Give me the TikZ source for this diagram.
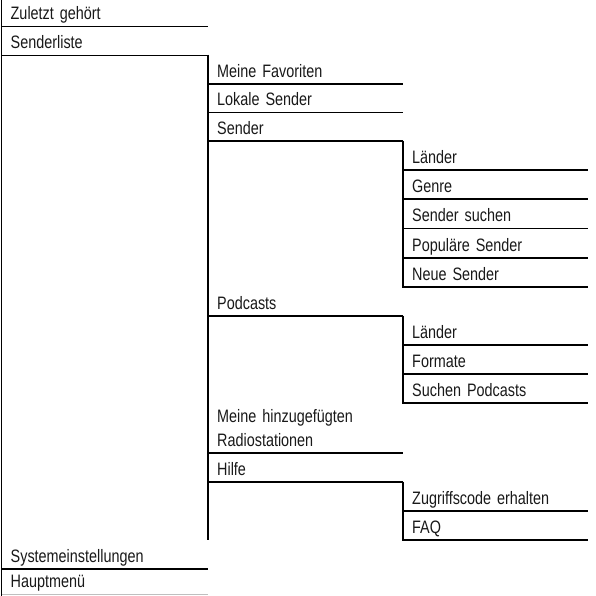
\documentclass[tikz,border=0pt]{standalone}
\usepackage{fontspec}
\setmainfont[FakeStretch=0.8, WordSpace=0.6]{Liberation Sans}
\usepackage{tikz}

\tikzset{
  menu/.style={anchor=south west, inner xsep=9pt, inner ysep=0pt,
    text height=22.5pt, text depth=6.5pt, align=left,
    font=\fontsize{18}{24}\selectfont, text=black!90},
  lvla/.style={menu, text width=188.5pt},
  lvlb/.style={menu, text width=177pt},
  lvlc/.style={menu, text width=167pt},
  rim/.style={line width=1.7pt, line join=miter}
}

\begin{document}
\begin{tikzpicture}[x=1pt, y=-1pt]
            \useasboundingbox (0,0) rectangle (595,596);

            % Level 0: main menu
            \node[lvla] (zuletzt) at (1.5,26.5) {Zuletzt gehört};
            \node[lvla] (senderliste) at (1.5,55.5) {Senderliste};
            \node[lvla] (system) at (1.5,569) {Systemeinstellungen};
            \node[lvla, text height=18.5pt] (haupt) at (1.5,594) {Hauptmenü};

            % Level 1: Senderliste
            \node[lvlb] (favoriten) at (208,84) {Meine Favoriten};
            \node[lvlb] (lokal) at (208,112.5) {Lokale Sender};
            \node[lvlb] (sender) at (208,141) {Sender};
            \node[lvlb] (podcasts) at (208,316) {Podcasts};
            \node[lvlb, text height=19.5pt, text depth=30.5pt] (hinzu) at (208,453) {Meine hinzugefügten\\Radiostationen};
            \node[lvlb] (hilfe) at (208,482) {Hilfe};

            % Level 2: Sender
            \node[lvlc] (laender) at (403,170) {Länder};
            \node[lvlc] (genre) at (403,199) {Genre};
            \node[lvlc] (suchen) at (403,228.5) {Sender suchen};
            \node[lvlc] (populaer) at (403,258) {Populäre Sender};
            \node[lvlc] (neu) at (403,287) {Neue Sender};

            % Level 2: Podcasts
            \node[lvlc] (plaender) at (403,345) {Länder};
            \node[lvlc] (formate) at (403,374) {Formate};
            \node[lvlc] (psuchen) at (403,403) {Suchen Podcasts};

            % Level 2: Hilfe
            \node[lvlc] (zugriff) at (403,511) {Zugriffscode erhalten};
            \node[lvlc] (faq) at (403,540) {FAQ};

            % left and bottom rules of each entry
            \foreach \n in {zuletzt,senderliste,system,favoriten,lokal,sender,podcasts,hinzu,hilfe,
                            laender,genre,suchen,populaer,neu,plaender,formate,psuchen,zugriff,faq}
              \draw[rim] (\n.north west) |- (\n.south east);
            \draw[rim] (haupt.north west) -- (haupt.south west);
            \draw[gray!50, line width=1pt] (haupt.south west) -- (haupt.south east);

            % rules running past the sub menus
            \coordinate (foot) at (1.5,596);
            \draw[rim] (senderliste.south west) -- (system.north west);
            \draw[rim] (haupt.south west) -- (foot);
            \draw[rim] (sender.south west) -- (podcasts.north west);
            \draw[rim] (podcasts.south west) -- (hinzu.north west);
            \draw[rim] (hilfe.south west) -- (hilfe.south west |- faq.south);

        \end{tikzpicture}
\end{document}
